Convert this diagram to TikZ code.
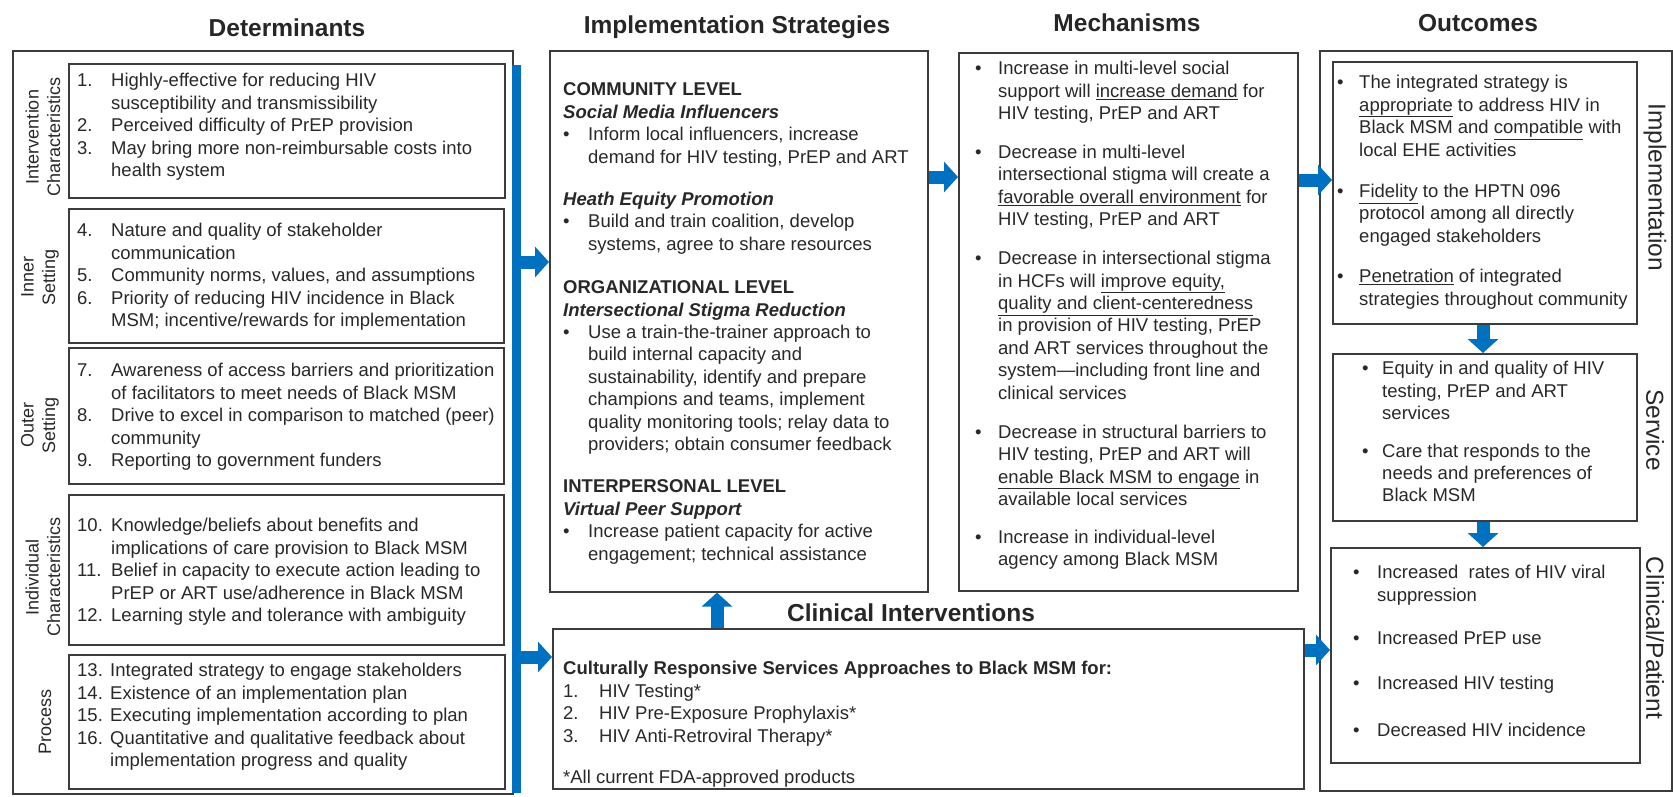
\documentclass[tikz,border=0pt]{standalone}
\usepackage{fontspec}
\setmainfont{Liberation Sans}
\usetikzlibrary{arrows.meta}

\definecolor{flowblue}{RGB}{0,112,192}
\definecolor{boxgray}{RGB}{60,60,60}
\definecolor{inkgray}{RGB}{40,40,40}

\newcommand{\bodyfont}{\fontsize{18.5}{22.4}\selectfont}
\newcommand{\headfont}{\fontsize{24.5}{28}\selectfont\bfseries}
\newcommand{\sidefont}{\fontsize{18}{21.5}\selectfont}
\newcommand{\levelfont}{\fontsize{24.5}{28}\selectfont}

\tikzset{
  box/.style={draw=boxgray, line width=1.6pt, inner sep=0pt, anchor=north west},
  txt/.style={anchor=north west, inner sep=0pt, font=\bodyfont, text=inkgray},
  ttl/.style={font=\headfont, text=black!85},
  side/.style={font=\sidefont, text=inkgray, rotate=90, align=center, inner sep=0pt},
  level/.style={font=\levelfont, text=inkgray, rotate=-90, inner sep=0pt},
  flow/.style={draw=flowblue, line width=13pt, -{Triangle[length=14pt,width=30pt]}},
}

\begin{document}
\begin{tikzpicture}[x=1pt,y=-1pt]
  \useasboundingbox (0,0) rectangle (1673,796);

  % headings
  \node[ttl] (tDet)  at (287,28)  {Determinants};
  \node[ttl] (tImpl) at (737,27)  {Implementation Strategies};
  \node[ttl] (tMech) at (1127,23) {Mechanisms};
  \node[ttl] (tOut)  at (1478,23) {Outcomes};
  \node[ttl] (tClin) at (911,613) {Clinical Interventions};

  % determinants
  \node[box, minimum width=500pt, minimum height=743pt] (det)  at (12,50)  {};
  \node[box, minimum width=436pt, minimum height=134pt] (detA) at (68,63)  {};
  \node[box, minimum width=435pt, minimum height=134pt] (detB) at (68,208) {};
  \node[box, minimum width=435pt, minimum height=136pt] (detC) at (68,347) {};
  \node[box, minimum width=435pt, minimum height=150pt] (detD) at (68,494) {};
  \node[box, minimum width=436pt, minimum height=134pt] (detE) at (68,654) {};
  \node[fill=flowblue, inner sep=0pt, anchor=north west,
        minimum width=9pt, minimum height=728pt] (bar) at (512,65) {};

  \node[side] (sA) at (43,137) {Intervention\\Characteristics};
  \node[side] (sB) at (40,277) {Inner\\Setting};
  \node[side] (sC) at (40,425) {Outer\\Setting};
  \node[side] (sD) at (43,577) {Individual\\Characteristics};
  \node[side] (sE) at (45,722) {Process};

  \node[txt] (detAtext) at (77,71) {\begin{tabular}{@{}p{34pt}@{}l@{}}
    1. & Highly-effective for reducing HIV\\
       & susceptibility and transmissibility\\
    2. & Perceived difficulty of PrEP provision\\
    3. & May bring more non-reimbursable costs into\\
       & health system
  \end{tabular}};
  \node[txt] (detBtext) at (77,221) {\begin{tabular}{@{}p{34pt}@{}l@{}}
    4. & Nature and quality of stakeholder\\
       & communication\\
    5. & Community norms, values, and assumptions\\
    6. & Priority of reducing HIV incidence in Black\\
       & MSM; incentive/rewards for implementation
  \end{tabular}};
  \node[txt] (detCtext) at (77,361) {\begin{tabular}{@{}p{34pt}@{}l@{}}
    7. & Awareness of access barriers and prioritization\\
       & of facilitators to meet needs of Black MSM\\
    8. & Drive to excel in comparison to matched (peer)\\
       & community\\
    9. & Reporting to government funders
  \end{tabular}};
  \node[txt] (detDtext) at (77,516) {\begin{tabular}{@{}p{34pt}@{}l@{}}
    10. & Knowledge/beliefs about benefits and\\
        & implications of care provision to Black MSM\\
    11. & Belief in capacity to execute action leading to\\
        & PrEP or ART use/adherence in Black MSM\\
    12. & Learning style and tolerance with ambiguity
  \end{tabular}};
  \node[txt] (detEtext) at (77,661) {\begin{tabular}{@{}p{33pt}@{}l@{}}
    13. & Integrated strategy to engage stakeholders\\
    14. & Existence of an implementation plan\\
    15. & Executing implementation according to plan\\
    16. & Quantitative and qualitative feedback about\\
        & implementation progress and quality
  \end{tabular}};

  % implementation strategies
  \node[box, minimum width=378pt, minimum height=541pt] (impl) at (549,50) {};
  \node[txt] (implText) at (563,80) {\begin{tabular}{@{}p{25pt}@{}l@{}}
    \multicolumn{2}{@{}l@{}}{\textbf{COMMUNITY LEVEL}}\\
    \multicolumn{2}{@{}l@{}}{\textbf{\textit{Social Media Influencers}}}\\
    \textbullet & Inform local influencers, increase\\
                & demand for HIV testing, PrEP and ART\\[20pt]
    \multicolumn{2}{@{}l@{}}{\textbf{\textit{Heath Equity Promotion}}}\\
    \textbullet & Build and train coalition, develop\\
                & systems, agree to share resources\\[21pt]
    \multicolumn{2}{@{}l@{}}{\textbf{ORGANIZATIONAL LEVEL}}\\
    \multicolumn{2}{@{}l@{}}{\textbf{\textit{Intersectional Stigma Reduction}}}\\
    \textbullet & Use a train-the-trainer approach to\\
                & build internal capacity and\\
                & sustainability, identify and prepare\\
                & champions and teams, implement\\
                & quality monitoring tools; relay data to\\
                & providers; obtain consumer feedback\\[20pt]
    \multicolumn{2}{@{}l@{}}{\textbf{INTERPERSONAL LEVEL}}\\
    \multicolumn{2}{@{}l@{}}{\textbf{\textit{Virtual Peer Support}}}\\
    \textbullet & Increase patient capacity for active\\
                & engagement; technical assistance
  \end{tabular}};

  % clinical interventions
  \node[box, minimum width=751pt, minimum height=160pt] (clin) at (552,628) {};
  \node[txt] (clinText) at (563,659) {\begin{tabular}{@{}p{36pt}@{}l@{}}
    \multicolumn{2}{@{}l@{}}{\textbf{Culturally Responsive Services Approaches to Black MSM for:}}\\
    1. & HIV Testing*\\
    2. & HIV Pre-Exposure Prophylaxis*\\
    3. & HIV Anti-Retroviral Therapy*\\[19pt]
    \multicolumn{2}{@{}l@{}}{*All current FDA-approved products}
  \end{tabular}};

  % mechanisms
  \node[box, minimum width=339pt, minimum height=538pt] (mech) at (958,52) {};
  \node[txt] (mechText) at (975,59) {\begin{tabular}{@{}p{23pt}@{}l@{}}
    \textbullet & Increase in multi-level social\\
                & support will \underline{increase demand} for\\
                & HIV testing, PrEP and ART\\[16.5pt]
    \textbullet & Decrease in multi-level\\
                & intersectional stigma will create a\\
                & \underline{favorable overall environment} for\\
                & HIV testing, PrEP and ART\\[16.5pt]
    \textbullet & Decrease in intersectional stigma\\
                & in HCFs will \underline{improve equity,}\\
                & \underline{quality and client-centeredness}\\
                & in provision of HIV testing, PrEP\\
                & and ART services throughout the\\
                & system---including front line and\\
                & clinical services\\[17pt]
    \textbullet & Decrease in structural barriers to\\
                & HIV testing, PrEP and ART will\\
                & \underline{enable Black MSM to engage} in\\
                & available local services\\[15.5pt]
    \textbullet & Increase in individual-level\\
                & agency among Black MSM
  \end{tabular}};

  % outcomes
  \node[box, minimum width=352pt, minimum height=740pt] (outc)  at (1319,50)  {};
  \node[box, minimum width=304pt, minimum height=262pt] (oImpl) at (1332,61)  {};
  \node[box, minimum width=304pt, minimum height=167pt] (oServ) at (1332,353) {};
  \node[box, minimum width=309pt, minimum height=215pt] (oClin) at (1330,547) {};

  \node[level] (lImpl) at (1655,187) {Implementation};
  \node[level] (lServ) at (1655,430) {Service};
  \node[level] (lClin) at (1655,638) {Clinical/Patient};

  \node[txt] (oImplText) at (1337,73) {\begin{tabular}{@{}p{22pt}@{}l@{}}
    \textbullet & The integrated strategy is\\
                & \underline{appropriate} to address HIV in\\
                & Black MSM and \underline{compatible} with\\
                & local EHE activities\\[19pt]
    \textbullet & \underline{Fidelity} to the HPTN 096\\
                & protocol among all directly\\
                & engaged stakeholders\\[18pt]
    \textbullet & \underline{Penetration} of integrated\\
                & strategies throughout community
  \end{tabular}};
  \node[txt] (oServText) at (1362,359) {\begin{tabular}{@{}p{20pt}@{}l@{}}
    \textbullet & Equity in and quality of HIV\\
                & testing, PrEP and ART\\
                & services\\[15pt]
    \textbullet & Care that responds to the\\
                & needs and preferences of\\
                & Black MSM
  \end{tabular}};
  \node[txt] (oClinText) at (1353,563) {\begin{tabular}{@{}p{24pt}@{}l@{}}
    \textbullet & Increased\ \ rates of HIV viral\\
                & suppression\\[21pt]
    \textbullet & Increased PrEP use\\[22.5pt]
    \textbullet & Increased HIV testing\\[24.5pt]
    \textbullet & Decreased HIV incidence
  \end{tabular}};

  % blue connectors
  \coordinate (rowA) at (0,262);
  \coordinate (rowB) at (0,657);
  \coordinate (rowC) at (0,177);
  \coordinate (rowD) at (0,180);
  \coordinate (rowE) at (0,650);
  \coordinate (colA) at (717,0);
  \coordinate (colB) at (1483,0);

  \draw[flow] (bar.east |- rowA)  -- (impl.west |- rowA);
  \draw[flow] (bar.east |- rowB)  -- (clin.west |- rowB);
  \draw[flow] (impl.east |- rowC) -- (mech.west |- rowC);
  \draw[flow] (mech.east |- rowD) -- (oImpl.west |- rowD);
  \draw[flow] (clin.east |- rowE) -- (oClin.west |- rowE);
  \draw[flow] (clin.north -| colA) -- (impl.south -| colA);
  \draw[flow] (oImpl.south -| colB) -- (oServ.north -| colB);
  \draw[flow] (oServ.south -| colB) -- (oClin.north -| colB);
\end{tikzpicture}
\end{document}
